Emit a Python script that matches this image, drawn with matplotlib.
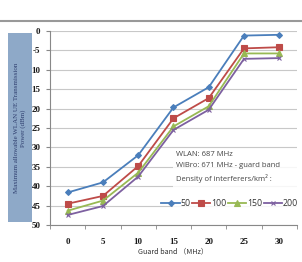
import matplotlib.pyplot as plt
from matplotlib.patches import Rectangle

# data
guard_band = ['0', '5', '10', '15', '20', '25', '30']
density_50 = [41.6, 39.0, 32.0, 19.7, 14.5, 1.2, 1.0]
density_100 = [44.5, 42.5, 34.8, 22.5, 17.3, 4.5, 4.2]
density_150 = [46.3, 43.7, 36.5, 24.6, 19.4, 5.8, 5.8]
density_200 = [47.4, 45.1, 37.5, 25.5, 20.3, 7.2, 7.0]
series_names = ['50', '100', '150', '200']
y_ticks = [0, 5, 10, 15, 20, 25, 30, 35, 40, 45, 50]
y_tick_labels = ['0', '-5', '10', '15', '20', '25', '30', '35', '40', '45', '50']

colors = ['#4A7EBB', '#BE4B48', '#98B954', '#7D60A0']
markers = ['D', 's', '^', 'x']
msizes = [3, 4.5, 4, 3]

fig = plt.figure(figsize=(3.02, 2.62), dpi=100)
ax = fig.add_axes([0.166, 0.141, 0.817, 0.741])

x = list(range(len(guard_band)))
for vals, name, c, m, ms in zip([density_50, density_100, density_150, density_200],
                                series_names, colors, markers, msizes):
    ax.plot(x, vals, color=c, marker=m, markersize=ms, linewidth=1.3,
            markeredgewidth=0.8, label=name)

ax.set_ylim(50, 0)
ax.set_xlim(-0.5, len(guard_band) - 0.5)
ax.set_xticks([i - 0.5 for i in range(len(guard_band) + 1)], minor=True)
ax.tick_params(axis='x', which='major', length=0, pad=9)
ax.tick_params(axis='x', which='minor', length=3, color='#888888')
ax.tick_params(axis='y', length=3, color='#888888', pad=4)
ax.set_yticks(y_ticks)
ax.set_xticks(x)
tick_font = dict(fontsize=6.5, fontweight='bold', family='Liberation Serif', color='#1a1a1a')
ax.set_yticklabels(y_tick_labels, **tick_font)
ax.set_xticklabels(guard_band, **tick_font)
ax.grid(axis='y', color='#C8C8C8', linewidth=0.8)
ax.set_axisbelow(True)
for s in ['top', 'right']:
    ax.spines[s].set_visible(False)
ax.spines['left'].set_color('#888888')
ax.spines['bottom'].set_color('#888888')

ax.set_xlabel('Guard band （MHz）', fontsize=5.2,
              family=['Noto Sans CJK SC', 'DejaVu Sans'], color='#333333', labelpad=1)

# y label in a coloured box
fig.patches.append(Rectangle((8 / 302, 1 - 222 / 262), 24 / 302, 189 / 262,
                             transform=fig.transFigure, facecolor='#8EA9C8',
                             edgecolor='none', zorder=0))
fig.text(20 / 302, 1 - 128 / 262,
         'Maximum allowable WLAN UE Transmission\nPower (dBm)',
         rotation=90, ha='center', va='center', fontsize=5,
         family='Liberation Serif', color='#2F3F6F', linespacing=1.2)

# top border line
fig.add_artist(plt.Line2D([0, 1], [1 - 21 / 262, 1 - 21 / 262],
                          transform=fig.transFigure, color='#999999', linewidth=1.5))

# annotation box + legend
ax.add_patch(Rectangle((3.0, 30.3), 3.5, 16.6, facecolor='white', alpha=0.85,
                       edgecolor='none', zorder=3))
ann = 'WLAN: 687 MHz\nWiBro: 671 MHz - guard band\nDensity of interferers/km² :'
ax.text(3.08, 30.9, ann, fontsize=5.5, va='top', ha='left', color='#444444',
        family='Open Sans', linespacing=1.75, zorder=4)
leg = ax.legend(loc='center right', bbox_to_anchor=(1.005, 1 - 44.4 / 50), ncol=4,
                frameon=False, handlelength=2.1, handletextpad=0.1,
                columnspacing=0.15, borderpad=0.0, borderaxespad=0.0,
                prop={'family': 'Open Sans', 'size': 6.3})
leg.set_zorder(5)
for t in leg.get_texts():
    t.set_color('#333333')

fig.savefig('out.png', dpi=100, facecolor='white')
